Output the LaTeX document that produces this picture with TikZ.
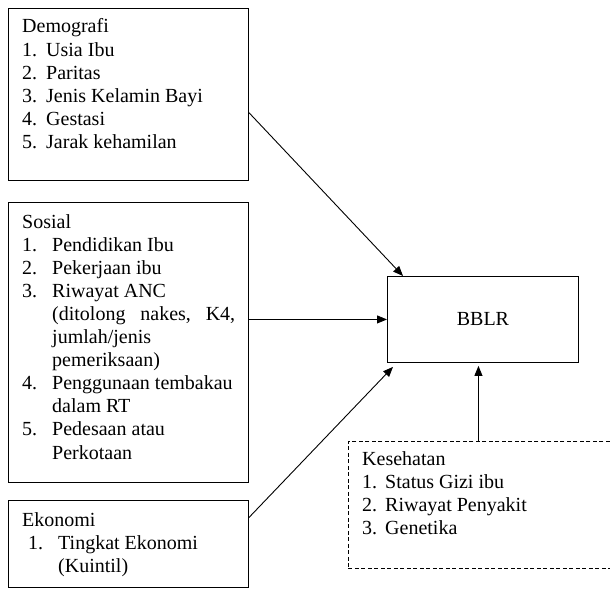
\documentclass[tikz,border=0pt]{standalone}
\usepackage{fontspec}
\setmainfont{Liberation Serif}
\usetikzlibrary{arrows.meta,calc}
\newcommand\nb[2]{\makebox[#1][l]{#2}}
\begin{document}
\begin{tikzpicture}[x=1pt,y=-1pt,
  box/.style={draw=black, line width=0.9pt, rectangle, inner sep=0pt, anchor=north west},
  dbox/.style={box, dash pattern=on 4pt off 2.5pt},
  txt/.style={inner sep=0pt, anchor=base west, font=\fontsize{20}{23.1}\selectfont},
  arr/.style={line width=0.9pt, -{Triangle[length=10pt,width=8pt]}}]
\useasboundingbox (0,0) rectangle (610,596);

\node[box, minimum width=240pt, minimum height=172pt] (demo) at (8,8) {};
\node[box, minimum width=240pt, minimum height=280pt] (sosial) at (8,202) {};
\node[box, minimum width=240pt, minimum height=87pt] (eko) at (8,500) {};
\node[box, minimum width=191pt, minimum height=86pt, font=\fontsize{20}{23.1}\selectfont] (bblr) at (387,276) {BBLR};
\node[dbox, minimum width=272pt, minimum height=127pt] (kes) at (348,441) {};

\node[txt] (demot) at (22,33) {\begin{tabular}[t]{@{}l@{}}
Demografi\\
\nb{24pt}{1.}Usia Ibu\\
\nb{24pt}{2.}Paritas\\
\nb{24pt}{3.}Jenis Kelamin Bayi\\
\nb{24pt}{4.}Gestasi\\
\nb{24pt}{5.}Jarak kehamilan
\end{tabular}};

\node[txt] (sosialt) at (22,228) {\begin{tabular}[t]{@{}l@{}}
Sosial\\
\nb{30pt}{1.}Pendidikan Ibu\\
\nb{30pt}{2.}Pekerjaan ibu\\
\nb{30pt}{3.}Riwayat ANC\\
\hspace*{30pt}\makebox[183pt][l]{(ditolong\hfill nakes,\hfill K4,}\\
\hspace*{30pt}jumlah/jenis\\
\hspace*{30pt}pemeriksaan)\\
\nb{30pt}{4.}Penggunaan tembakau\\
\hspace*{30pt}dalam RT\\
\nb{30pt}{5.}Pedesaan atau\\
\hspace*{30pt}Perkotaan
\end{tabular}};

\node[txt] (ekot) at (22,526) {\begin{tabular}[t]{@{}l@{}}
Ekonomi\\
\hspace*{6pt}\nb{30pt}{1.}Tingkat Ekonomi\\
\hspace*{36pt}(Kuintil)
\end{tabular}};

\node[txt] (kest) at (362,465) {\begin{tabular}[t]{@{}l@{}}
Kesehatan\\
\nb{23pt}{1.}Status Gizi ibu\\
\nb{23pt}{2.}Riwayat Penyakit\\
\nb{23pt}{3.}Genetika
\end{tabular}};

\draw[arr] ($(demo.north east)!0.605!(demo.south east)$) -- ([xshift=16pt]bblr.north west);
\draw[arr] (bblr.west -| sosial.east) -- (bblr.west);
\draw[arr] ($(eko.north east)!0.2!(eko.south east)$) -- ([xshift=6pt,yshift=-4pt]bblr.south west);
\draw[arr] ([xshift=-4.5pt]bblr.south |- kes.north) -- ([xshift=-4.5pt,yshift=-3pt]bblr.south);
\end{tikzpicture}
\end{document}
